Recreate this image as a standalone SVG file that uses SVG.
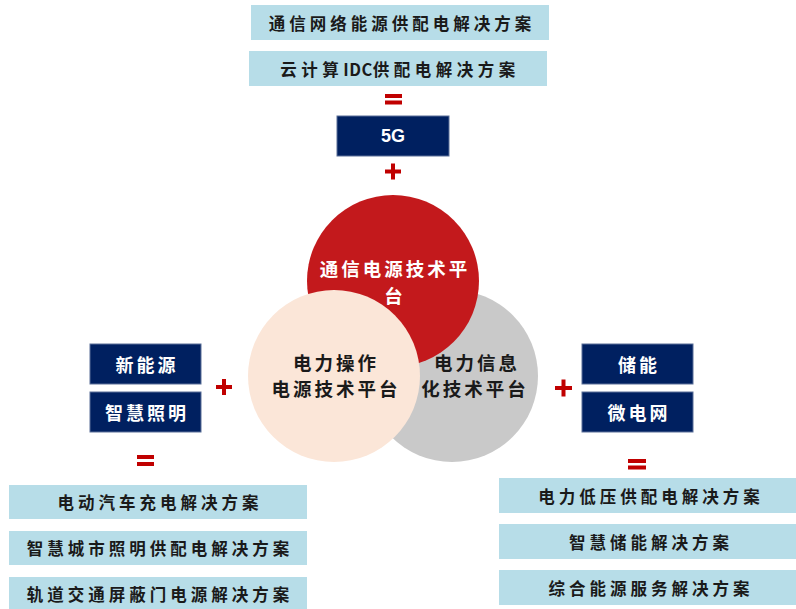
<svg xmlns="http://www.w3.org/2000/svg" width="796" height="609" viewBox="0 0 796 609">
<style>
.lb{fill:#b7dde8;}
.nv{fill:#002060;stroke:#5a6f98;stroke-width:1;}
.t{font-family:"Noto Sans CJK SC","Noto Sans",sans-serif;font-weight:700;text-anchor:middle;dominant-baseline:central;}
.dk{fill:#1a1a1a;font-size:16.5px;letter-spacing:4px;}
.wt{fill:#ffffff;font-size:18px;letter-spacing:3px;}
.ct{font-size:18.5px;letter-spacing:3px;}
.op{fill:#c00000;}
</style>
<rect width="796" height="609" fill="#ffffff"/>
<g id="top-solutions">
<g id="s-telecom"><rect class="lb" x="251" y="5" width="298" height="35"/><text class="t dk" x="402" y="22.5">通信网络能源供配电解决方案</text></g>
<g id="s-idc"><rect class="lb" x="249" y="51" width="298" height="35"/><text class="t dk" x="400" y="68.5" style="letter-spacing:4.5px">云计算<tspan style="letter-spacing:0.5px">IDC</tspan>供配电解决方案</text></g>
</g>
<g id="n-5g"><rect class="nv" x="337" y="116" width="112" height="40"/><text x="393" y="136" font-family="Liberation Sans,Arial,sans-serif" font-weight="700" font-size="18" fill="#ffffff" text-anchor="middle" dominant-baseline="central">5G</text></g>
<g id="circles">
<g id="c-gray"><circle cx="452" cy="376" r="86" fill="#c9c9c9"/></g>
<g id="c-red"><circle cx="393" cy="281" r="86" fill="#c3191c"/></g>
<g id="c-peach"><circle cx="334" cy="376" r="86" fill="#fbe6d8"/></g>
<text class="t ct" fill="#ffffff" x="395" y="268">通信电源技术平</text>
<text class="t ct" fill="#ffffff" x="395" y="295">台</text>
<text class="t ct" fill="#1a1a1a" x="336" y="362">电力操作</text>
<text class="t ct" fill="#1a1a1a" x="336" y="388">电源技术平台</text>
<text class="t ct" fill="#1a1a1a" x="477" y="362">电力信息</text>
<text class="t ct" fill="#1a1a1a" x="475" y="388">化技术平台</text>
</g>
<g id="left-inputs">
<g id="n-newenergy"><rect class="nv" x="90" y="344" width="111" height="40"/><text class="t wt" x="147" y="364">新能源</text></g>
<g id="n-lighting"><rect class="nv" x="90" y="392" width="111" height="40"/><text class="t wt" x="147" y="412">智慧照明</text></g>
</g>
<g id="right-inputs">
<g id="n-storage"><rect class="nv" x="582" y="344" width="111" height="40"/><text class="t wt" x="639" y="364">储能</text></g>
<g id="n-microgrid"><rect class="nv" x="582" y="392" width="111" height="40"/><text class="t wt" x="639" y="412">微电网</text></g>
</g>
<g id="left-solutions">
<g id="s-ev"><rect class="lb" x="9" y="485" width="298" height="34"/><text class="t dk" x="160" y="502">电动汽车充电解决方案</text></g>
<g id="s-city"><rect class="lb" x="9" y="531" width="298" height="34"/><text class="t dk" x="160" y="548">智慧城市照明供配电解决方案</text></g>
<g id="s-rail"><rect class="lb" x="9" y="577" width="298" height="34"/><text class="t dk" x="160" y="594">轨道交通屏蔽门电源解决方案</text></g>
</g>
<g id="right-solutions">
<g id="s-lv"><rect class="lb" x="499" y="478" width="297" height="35"/><text class="t dk" x="651" y="495.5">电力低压供配电解决方案</text></g>
<g id="s-ess"><rect class="lb" x="499" y="524" width="297" height="35"/><text class="t dk" x="651" y="541.5">智慧储能解决方案</text></g>
<g id="s-ies"><rect class="lb" x="499" y="570" width="297" height="35"/><text class="t dk" x="651" y="587.5">综合能源服务解决方案</text></g>
</g>
<g id="connectors">
<g id="eq-top" class="op"><rect x="385" y="94" width="17" height="4"/><rect x="385" y="100.5" width="17" height="4"/></g>
<g id="plus-top" class="op"><rect x="385" y="169.5" width="16" height="4"/><rect x="391" y="163.5" width="4" height="16"/></g>
<g id="plus-left" class="op"><rect x="216" y="385" width="16" height="4"/><rect x="222" y="379" width="4" height="16"/></g>
<g id="plus-right" class="op"><rect x="555" y="386" width="17" height="4"/><rect x="561.5" y="379.5" width="4" height="17"/></g>
<g id="eq-left" class="op"><rect x="137" y="455" width="17" height="4"/><rect x="137" y="462" width="17" height="4"/></g>
<g id="eq-right" class="op"><rect x="628" y="459" width="18" height="4"/><rect x="628" y="465.5" width="18" height="4"/></g>
</g>
</svg>
